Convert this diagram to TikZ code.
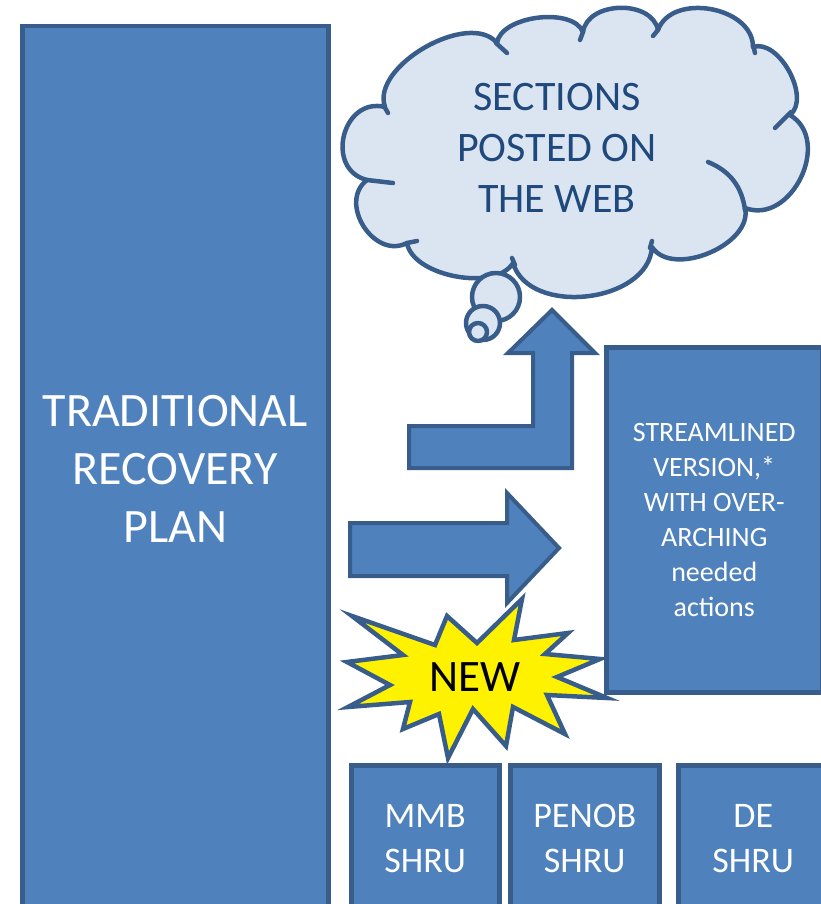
\documentclass[tikz,border=0pt]{standalone}
\usepackage{xcolor}
\usepackage{fontspec}
\setmainfont{Carlito}
\usepackage{tikz}
\usetikzlibrary{positioning}
\definecolor{boxfill}{HTML}{4F81BD}
\definecolor{boxline}{HTML}{385D8A}
\definecolor{cloudfill}{HTML}{DBE5F1}
\definecolor{cloudtext}{HTML}{1F497D}

\begin{document}
\begin{tikzpicture}[x=1pt,y=1pt,
        bluebox/.style={draw=boxline,fill=boxfill,line width=4.5pt,text=white,align=center,inner sep=0pt,anchor=north west},
        puff/.style={draw=boxline,fill=cloudfill,line width=4.5pt,line join=round},
        cloudline/.style={draw=boxline,line width=4.5pt,line cap=round},
        blockarrow/.style={draw=boxline,fill=boxfill,line width=4pt},
        starburst/.style={draw=boxline,fill=yellow,line width=4.5pt}]
        \useasboundingbox (0,0) rectangle (821,-904);
        \node[bluebox,minimum width=306pt,minimum height=886pt,font=\fontsize{48}{58}\selectfont] (plan) at (20,-24) {TRADITIONAL\\RECOVERY\\PLAN};
        \node[bluebox,minimum width=216pt,minimum height=345pt,font=\fontsize{28}{35}\selectfont] (lean) at (604,-345) {STREAMLINED\\VERSION,*\\WITH OVER-\\ARCHING\\needed\\actions};
        \node[bluebox,minimum width=148pt,minimum height=146pt,font=\fontsize{36}{45}\selectfont] (mmb) at (349,-763) {MMB\\SHRU};
        \node[bluebox,minimum width=149pt,minimum height=146pt,font=\fontsize{36}{45}\selectfont] (penob) at (508,-763) {PENOB\\SHRU};
        \node[bluebox,minimum width=150pt,minimum height=146pt,font=\fontsize{36}{45}\selectfont] (de) at (676,-763) {DE\\SHRU};
        \draw[puff] (385,-107) to[bend left=80,looseness=0.86] (497,-43)
                to[bend left=75,looseness=0.81] (583,-32)
                to[bend left=80,looseness=1.07] (658,-30)
                to[bend left=80,looseness=1.07] (753,-47)
                to[bend left=80,looseness=0.9] (790,-115)
                to[bend left=85,looseness=1.23] (745,-208)
                to[bend left=80,looseness=0.95] (652,-247)
                to[bend left=80,looseness=1.03] (513,-263)
                to[bend left=70,looseness=0.8] (407,-243)
                to[bend left=85,looseness=1.27] (367,-180)
                to[bend left=90,looseness=1.5] (385,-107) -- cycle;
        \foreach \xa/\ya/\xb/\yb in {384/106/388/113,496/43/507/53,583/32/580/40,658/30/653/36,753/45/755/53,791/112/775/128,652/241/650/248,512/258/515/265,407/243/417/241,367/180/393/183}
                \draw[cloudline] (\xa,-\ya) -- (\xb,-\yb);
        \draw[cloudline] (708,-162) to[bend left=30] (745,-210);
        \node[text=cloudtext,align=center,font=\fontsize{42}{51}\selectfont] (web) at (557,-148) {SECTIONS\\POSTED ON\\THE WEB};
        \draw[puff] (496,-297) circle[radius=24pt];
        \draw[puff] (483,-323) circle[radius=17pt];
        \draw[puff] (478,-332) circle[radius=9pt];
        \draw[blockarrow] (409,-426) -- (533,-426) -- (533,-353) -- (508,-353) -- (552,-310) -- (595,-353) -- (572,-353) -- (572,-468) -- (409,-468) -- cycle;
        \draw[blockarrow] (350,-523) -- (507,-523) -- (507,-493) -- (559,-548) -- (507,-603) -- (507,-576) -- (350,-576) -- cycle;
        \draw[starburst] (522,-599) -- (514,-640) -- (568,-633) -- (545,-654) -- (600,-659) -- (557,-677) -- (607,-698) -- (547,-695) -- (565,-734) -- (513,-707) -- (506,-746) -- (473,-709) -- (448,-758) -- (439,-714) -- (403,-729) -- (410,-702) -- (348,-707) -- (390,-685) -- (347,-662) -- (403,-655) -- (352,-616) -- (435,-645) -- (447,-616) -- (477,-643) -- cycle;
        \node[font=\fontsize{45}{54}\selectfont] (new) at (475,-677) {NEW};
\end{tikzpicture}
\end{document}
